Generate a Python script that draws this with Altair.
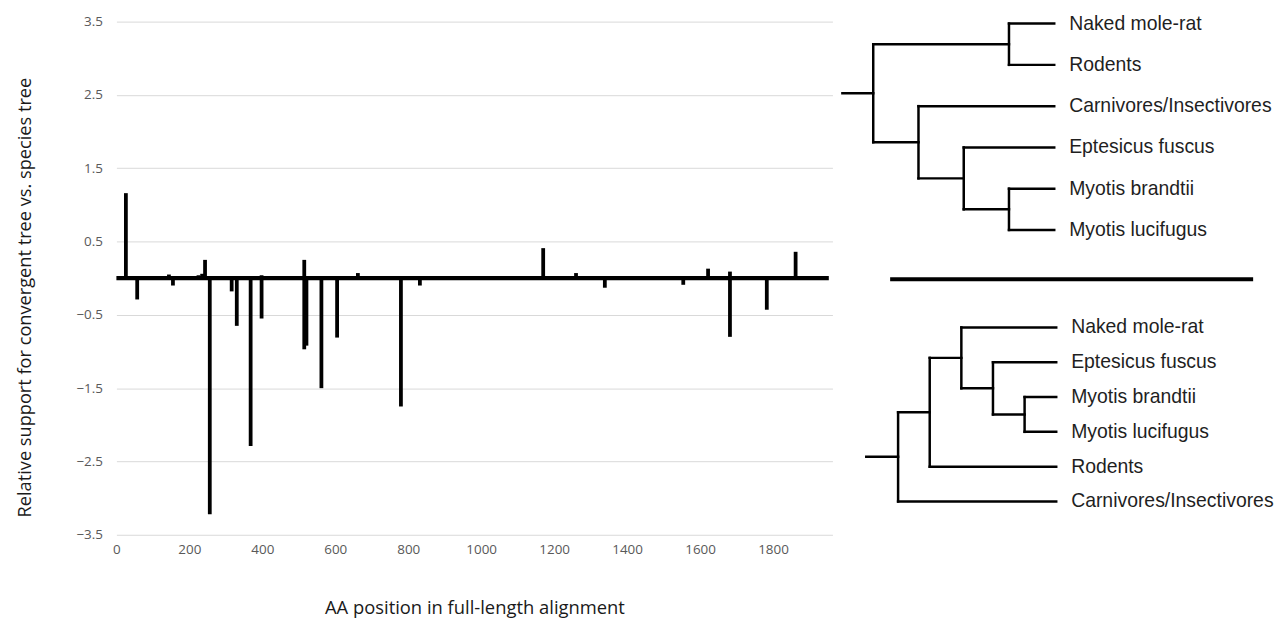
import altair as alt
import pandas as pd

# ---------------- data: spikes (AA position, relative support) ----------------
positions = [26, 57, 106, 144, 155, 215, 225, 235, 243, 256, 316, 330, 354, 368, 398,
             398, 423, 515, 515, 521, 540, 562, 605, 630, 662, 684, 780, 832, 1112, 1170,
             1260, 1339, 1554, 1622, 1682, 1682, 1783, 1862]
support = [1.16, -0.29, 0.03, 0.05, -0.10, 0.02, 0.04, 0.06, 0.25, -3.22, -0.18, -0.65, 0.03, -2.29, 0.04,
           -0.55, 0.03, 0.25, -0.97, -0.92, 0.03, -1.50, -0.81, 0.03, 0.07, 0.03, -1.75, -0.10, 0.01, 0.41,
           0.07, -0.13, -0.09, 0.13, 0.09, -0.80, -0.43, 0.36]
alignment_span = [0, 1953]
x_ticks = [0, 200, 400, 600, 800, 1000, 1200, 1400, 1600, 1800]
y_ticks = [-3.5, -2.5, -1.5, -0.5, 0.5, 1.5, 2.5, 3.5]

# ---------------- data: tree topologies ----------------
tree_top = (("Naked mole-rat", "Rodents"),
            ("Carnivores/Insectivores", ("Eptesicus fuscus", ("Myotis brandtii", "Myotis lucifugus"))))
tree_bottom = ((("Naked mole-rat", ("Eptesicus fuscus", ("Myotis brandtii", "Myotis lucifugus"))), "Rodents"),
               "Carnivores/Insectivores")

# ---------------- tree layout (cladogram) ----------------
def height(node):
    if isinstance(node, str):
        return 0
    return 1 + max(height(c) for c in node)


def layout(tree, stub_x, root_x, leaf_x, top_y, row_h):
    H = height(tree)
    lw = (leaf_x - root_x) / H
    segs, labels = [], []
    counter = [0]

    def place(node):
        nx = root_x + (H - height(node)) * lw
        if isinstance(node, str):
            y = top_y + counter[0] * row_h
            counter[0] += 1
            labels.append({"x": leaf_x, "y": y, "name": node})
            return nx, y
        kids = [place(c) for c in node]
        ys = [k[1] for k in kids]
        y = (ys[0] + ys[-1]) / 2
        segs.append({"x": nx, "x2": nx, "y": ys[0], "y2": ys[-1]})
        for kx, ky in kids:
            segs.append({"x": nx, "x2": kx, "y": ky, "y2": ky})
        return nx, y

    rx, ry = place(tree)
    segs.append({"x": stub_x, "x2": rx, "y": ry, "y2": ry})
    return segs, labels


s1, l1 = layout(tree_top, 10, 41, 223, 2, 41.5)
s2, l2 = layout(tree_bottom, 34, 66, 225, 307.5, 35)
seg_df = pd.DataFrame(s1 + s2)
lab_df = pd.DataFrame(l1 + l2)
sep_df = pd.DataFrame({"x": [58], "x2": [423], "y": [259]})

label_font = "Open Sans"

# ---------------- left panel ----------------
spike_df = pd.DataFrame({"pos": positions, "val": support})
base_df = pd.DataFrame({"start": [alignment_span[0]], "end": [alignment_span[1]]})

xscale = alt.Scale(domain=[0, 1963], nice=False, zero=False)
yscale = alt.Scale(domain=[-3.5, 3.5], nice=False)

spikes = alt.Chart(spike_df).mark_rule(strokeWidth=3.8, color="black").encode(
    x=alt.X("pos:Q", scale=xscale,
            axis=alt.Axis(values=x_ticks, format="d", grid=False, domain=False, ticks=False,
                          labelFont=label_font, labelFontSize=13.5, labelColor="#595959",
                          labelPadding=8, labelFlush=False,
                          title="AA position in full-length alignment",
                          titleFont=label_font, titleFontSize=18.5, titleFontWeight="normal",
                          titleColor="#1a1a1a", titleY=79, titleBaseline="alphabetic")),
    y=alt.Y("val:Q", scale=yscale,
            axis=alt.Axis(values=y_ticks, grid=True, gridColor="#d9d9d9", domain=False, ticks=False,
                          labelFont=label_font, labelFontSize=13.5, labelColor="#595959",
                          labelPadding=14,
                          title="Relative support for convergent tree vs. species tree",
                          titleFont="Open Sans", titleFontSize=18.3, titleFontWeight="normal",
                          titleColor="#1a1a1a", titleX=-91, titleY=277, titleBaseline="middle")),
    y2=alt.Y2(datum=0),
)

baseline = alt.Chart(base_df).mark_rule(strokeWidth=4.2, color="black").encode(
    x=alt.X("start:Q", scale=xscale),
    x2="end:Q",
    y=alt.Y(datum=0, scale=yscale),
)

left = alt.layer(baseline, spikes).properties(width=720, height=516)

# ---------------- right panel (trees) ----------------
tx = alt.Scale(domain=[0, 440], nice=False, zero=False)
ty = alt.Scale(domain=[0, 516], nice=False, zero=False, reverse=True)

branches = alt.Chart(seg_df).mark_rule(strokeWidth=2.5, color="black", strokeCap="square").encode(
    x=alt.X("x:Q", scale=tx, axis=None), x2="x2:Q",
    y=alt.Y("y:Q", scale=ty, axis=None), y2="y2:Q",
)
names = alt.Chart(lab_df).mark_text(align="left", baseline="middle", dx=15, fontSize=19.5,
                                    font="Liberation Sans", color="#1f1f1f").encode(
    x=alt.X("x:Q", scale=tx, axis=None),
    y=alt.Y("y:Q", scale=ty, axis=None),
    text="name:N",
)
separator = alt.Chart(sep_df).mark_rule(strokeWidth=4, color="black").encode(
    x=alt.X("x:Q", scale=tx, axis=None), x2="x2:Q",
    y=alt.Y("y:Q", scale=ty, axis=None),
)
right = alt.layer(branches, separator, names).properties(width=440, height=516)

chart = alt.hconcat(left, right, spacing=0).properties(
    padding={"top": 4, "left": 8, "right": 4, "bottom": 0},
    background="white",
).configure_view(stroke=None)

chart.save("out.html", embed_options={"renderer": "svg", "actions": False})
